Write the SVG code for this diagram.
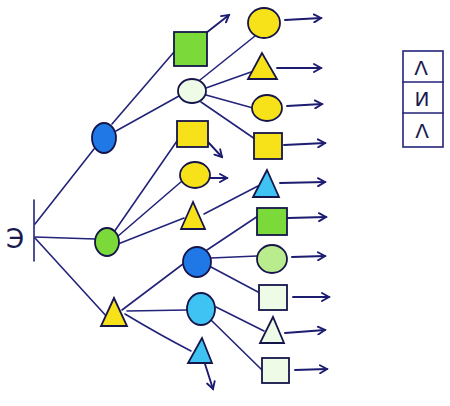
<svg xmlns="http://www.w3.org/2000/svg" width="450" height="406" viewBox="0 0 450 406">
<defs>
<style>
.ln{stroke:#23237a;stroke-width:1.6;fill:none;stroke-linecap:round}
.ar{stroke:#1c1c70;stroke-width:1.9;fill:none;stroke-linecap:round;marker-end:url(#ah)}
.sh{stroke:#15154a;stroke-width:1.8}
.y{fill:#f7e21a}
.g{fill:#7bd93a}
.b{fill:#1f78e6}
.c{fill:#3ec3f2}
.w{fill:#eefbe6}
.t{font-family:"DejaVu Sans",sans-serif;fill:#1a1a50}
</style>
<marker id="ah" markerWidth="10" markerHeight="10" refX="8" refY="5" orient="auto" markerUnits="userSpaceOnUse">
<path d="M1,1 L8,5 L1,9" fill="none" stroke="#1c1c70" stroke-width="1.9" stroke-linecap="round"/>
</marker>
</defs>
<rect width="450" height="406" fill="#ffffff"/>
<g id="connectors">
<line class="ln" x1="34" y1="200" x2="34" y2="261"/>
<line class="ln" x1="35" y1="224" x2="94" y2="149"/>
<line class="ln" x1="35" y1="237" x2="95" y2="239"/>
<line class="ln" x1="35" y1="238" x2="108" y2="318"/>
<line class="ln" x1="112" y1="124" x2="174" y2="52"/>
<line class="ln" x1="116" y1="131" x2="179" y2="96"/>
<line class="ln" x1="114" y1="232" x2="177" y2="141"/>
<line class="ln" x1="117" y1="237" x2="182" y2="181"/>
<line class="ln" x1="118" y1="244" x2="184" y2="218"/>
<line class="ln" x1="200" y1="80" x2="255" y2="36"/>
<line class="ln" x1="206" y1="88" x2="251" y2="72"/>
<line class="ln" x1="206" y1="95" x2="253" y2="108"/>
<line class="ln" x1="201" y1="102" x2="255" y2="139"/>
<line class="ln" x1="204" y1="214" x2="258" y2="186"/>
<line class="ln" x1="122" y1="310" x2="183" y2="264"/>
<line class="ln" x1="127" y1="311" x2="187" y2="310"/>
<path class="ln" d="M125,314 Q160,335 191,351"/>
<line class="ln" x1="207" y1="250" x2="258" y2="216"/>
<line class="ln" x1="211" y1="258" x2="257" y2="256"/>
<line class="ln" x1="211" y1="267" x2="258" y2="292"/>
<line class="ln" x1="216" y1="307" x2="264" y2="331"/>
<line class="ln" x1="211" y1="320" x2="262" y2="370"/>
<path class="ar" d="M206,33 L229,15"/>
<path class="ar" d="M208,142 L222,157"/>
<path class="ar" d="M210,178 L227,178"/>
<path class="ar" d="M285,20 L321,18"/>
<path class="ar" d="M277,68 L321,68"/>
<path class="ar" d="M287,106 L322,104"/>
<path class="ar" d="M284,145 L325,143"/>
<path class="ar" d="M280,183 L325,182"/>
<path class="ar" d="M288,218 L326,217"/>
<path class="ar" d="M292,257 L325,256"/>
<path class="ar" d="M293,297 L329,297"/>
<path class="ar" d="M285,333 L325,330"/>
<path class="ar" d="M295,370 L327,369"/>
<path class="ar" d="M205,364 L213,389"/>
</g>
<g id="root"><text class="t" x="15" y="248" font-size="26" text-anchor="middle">Э</text></g>
<g id="n-blue1"><ellipse class="sh b" cx="104" cy="138" rx="12" ry="15"/></g>
<g id="n-green1"><ellipse class="sh g" cx="107" cy="242" rx="12" ry="14"/></g>
<g id="n-ytri1"><polygon class="sh y" points="114,298 101,326 127,326"/></g>
<g id="n-gsq"><rect class="sh g" x="174" y="32" width="33" height="34"/></g>
<g id="n-wgell"><ellipse class="sh w" cx="192" cy="91" rx="14" ry="12"/></g>
<g id="n-ysq1"><rect class="sh y" x="177" y="121" width="31" height="26"/></g>
<g id="n-ycirc1"><ellipse class="sh y" cx="195" cy="175" rx="15" ry="13"/></g>
<g id="n-ytri2"><polygon class="sh y" points="193,202 181,229 205,229"/></g>
<g id="n-ycirc2"><ellipse class="sh y" cx="264" cy="23" rx="16" ry="15"/></g>
<g id="n-ytri3"><polygon class="sh y" points="262,53 248,79 277,79"/></g>
<g id="n-ycirc3"><ellipse class="sh y" cx="267" cy="108" rx="15" ry="13"/></g>
<g id="n-ysq2"><rect class="sh y" x="254" y="133" width="28" height="26"/></g>
<g id="n-btri1"><polygon class="sh c" points="267,170 253,197 279,197"/></g>
<g id="n-gsq2"><rect class="sh g" x="257" y="208" width="30" height="27"/></g>
<g id="n-bcircA"><ellipse class="sh b" cx="197" cy="262" rx="14" ry="15"/></g>
<g id="n-gcirc"><ellipse class="sh" cx="272" cy="259" rx="15" ry="14" fill="#b9ec8c"/></g>
<g id="n-wsq1"><rect class="sh w" x="259" y="285" width="28" height="25"/></g>
<g id="n-bcircB"><ellipse class="sh c" cx="201" cy="309" rx="14" ry="16"/></g>
<g id="n-wtri"><polygon class="sh w" points="273,317 260,343 284,343"/></g>
<g id="n-wsq2"><rect class="sh w" x="262" y="358" width="27" height="25"/></g>
<g id="n-btri2"><polygon class="sh c" points="202,338 188,363 212,363"/></g>
<g id="legend">
<rect x="403" y="51" width="40" height="96" fill="none" stroke="#23237a" stroke-width="1.6"/>
<line class="ln" x1="403" y1="82" x2="443" y2="82"/>
<line class="ln" x1="403" y1="113" x2="443" y2="113"/>
<text class="t" x="421" y="75" font-size="20" text-anchor="middle">Λ</text>
<text class="t" x="422" y="106" font-size="20" text-anchor="middle">И</text>
<text class="t" x="422" y="138" font-size="20" text-anchor="middle">Λ</text>
</g>
</svg>
